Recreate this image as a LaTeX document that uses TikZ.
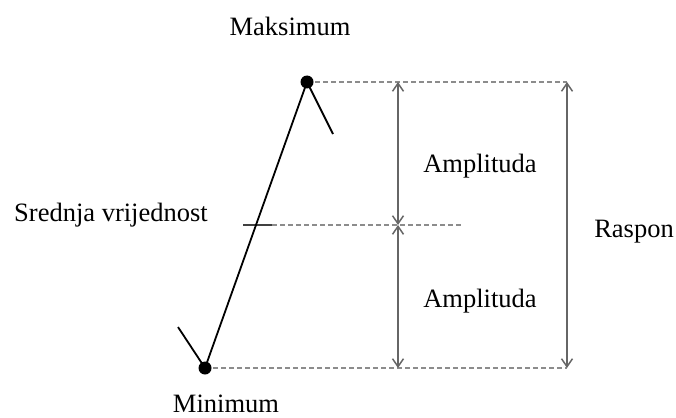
\documentclass[tikz,border=0pt]{standalone}
\usepackage{fontspec}
\setmainfont{Liberation Serif}
\usetikzlibrary{arrows.meta}
\begin{document}
\begin{tikzpicture}[x=1pt,y=-1pt,
  lbl/.style={font=\fontsize{26.5}{30}\selectfont, inner sep=0pt, anchor=base},
  guide/.style={draw=black!45, line width=1.8pt, dash pattern=on 5pt off 3pt},
  dim/.style={draw=black!60, line width=1.8pt, {Straight Barb[length=8pt,width=11pt,line width=1.5pt]}-{Straight Barb[length=8pt,width=11pt,line width=1.5pt]}},
  curve/.style={draw=black, line width=1.8pt},
  dot/.style={circle, fill=black, inner sep=0pt, minimum size=13pt}]
\useasboundingbox (0,0) rectangle (676,417);
\coordinate (maxtick) at (333,134);
\coordinate (mintick) at (178,327);
\coordinate (topR) at (567,82);
\coordinate (botR) at (567,368);
\coordinate (topA) at (398,82);
\coordinate (midA) at (398,225);
\coordinate (botA) at (398,368);
\coordinate (midL) at (243,225);
\coordinate (midS) at (272,225);
\coordinate (midR) at (463,225);
\coordinate (maxc) at (307,82);
\coordinate (minc) at (205,368);
% guides
\draw[guide] (maxc) -- (topR);
\draw[guide] (minc) -- (botR);
\draw[draw=black!75, line width=1.8pt] (midL) -- (midS);
\draw[guide] (midS) -- (midR);
% curve
\draw[curve] (minc) -- (maxc);
\draw[curve] (maxc) -- (maxtick);
\draw[curve] (minc) -- (mintick);
\node[dot] (max) at (maxc) {};
\node[dot] (min) at (minc) {};
% dimensions
\draw[dim] (topA) -- (midA);
\draw[dim] (midA) -- (botA);
\draw[dim] (topR) -- (botR);
% labels
\node[lbl] (lmax) at (290,36) {Maksimum};
\node[lbl] (lmin) at (226,412) {Minimum};
\node[lbl] (lsr) at (111,221) {Srednja vrijednost};
\node[lbl] (la1) at (480,172) {Amplituda};
\node[lbl] (la2) at (480,307) {Amplituda};
\node[lbl] (lr) at (634,237) {Raspon};
\end{tikzpicture}
\end{document}
